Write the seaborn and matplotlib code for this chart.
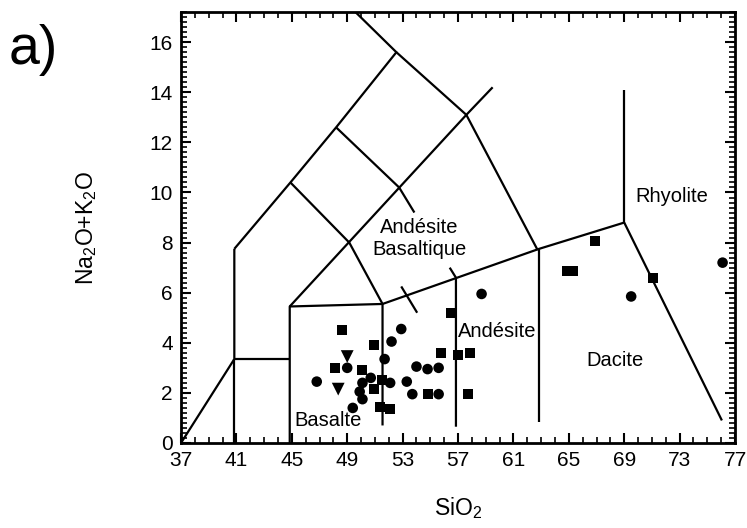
import pandas as pd
import seaborn as sns
import matplotlib.pyplot as plt
from matplotlib.ticker import MultipleLocator

# Sample analyses (SiO2, Na2O+K2O)
square_sio2 = [48.6, 50.9, 56.5, 55.8, 57.0, 57.9, 48.1, 50.1, 51.5, 50.9, 54.8, 57.7,
               51.4, 52.1, 66.9, 64.9, 65.3, 71.1]
square_alk = [4.5, 3.9, 5.2, 3.6, 3.5, 3.6, 3.0, 2.9, 2.5, 2.15, 1.95, 1.95,
              1.45, 1.35, 8.05, 6.85, 6.85, 6.6]
circle_sio2 = [52.9, 52.2, 51.7, 49.0, 54.0, 54.8, 55.6, 50.7, 46.8, 50.1, 52.1, 53.3,
               49.9, 53.7, 55.6, 50.1, 49.4, 58.7, 69.5, 76.1]
circle_alk = [4.55, 4.05, 3.35, 3.0, 3.05, 2.95, 3.0, 2.6, 2.45, 2.4, 2.4, 2.45,
              2.05, 1.95, 1.95, 1.75, 1.4, 5.95, 5.85, 7.2]
triangle_sio2 = [49.0, 48.35]
triangle_alk = [3.45, 2.15]

# TAS field boundaries as polylines (SiO2 list, Na2O+K2O list)
boundaries = [
    ([37.0, 40.85, 40.85], [0.0, 3.35, 7.75]),
    ([40.85, 40.85], [0.0, 3.35]),
    ([40.85, 44.85], [3.35, 3.35]),
    ([44.85, 44.85, 51.55, 51.55], [0.0, 5.45, 5.55, 0.7]),
    ([40.85, 44.9, 48.2, 52.55, 49.6], [7.75, 10.4, 12.6, 15.6, 17.2]),
    ([52.55, 57.6, 62.75], [15.6, 13.1, 7.7]),
    ([44.9, 49.15, 51.55], [10.4, 8.0, 5.55]),
    ([48.2, 52.75, 53.85], [12.6, 10.2, 9.2]),
    ([44.85, 57.6, 59.5], [5.45, 13.1, 14.2]),
    ([51.55, 62.85, 69.0], [5.55, 7.75, 8.8]),
    ([52.9, 54.05], [6.25, 5.2]),
    ([56.4, 56.85, 56.85], [7.0, 6.6, 0.65]),
    ([62.85, 62.85], [7.75, 0.85]),
    ([69.0, 76.05], [8.8, 0.9]),
    ([69.0, 69.0], [8.8, 14.1]),
]

field_names = ["Rhyolite", "Andésite\nBasaltique", "Andésite", "Dacite", "Basalte"]
field_x = [72.45, 54.2, 59.8, 68.3, 47.6]
field_y = [9.85, 8.15, 4.45, 3.3, 0.9]

points = pd.DataFrame({
    "SiO2": square_sio2 + circle_sio2 + triangle_sio2,
    "alk": square_alk + circle_alk + triangle_alk,
    "kind": ["square"] * len(square_sio2) + ["circle"] * len(circle_sio2)
            + ["triangle"] * len(triangle_sio2),
})

sns.set_style("ticks")
plt.rcParams['font.family'] = ['Liberation Sans', 'DejaVu Sans']
plt.rcParams['mathtext.default'] = 'regular'
plt.rcParams['text.color'] = 'black'
plt.rcParams['axes.labelcolor'] = 'black'

fig = plt.figure(figsize=(7.47, 5.28), dpi=100)
ax = fig.add_axes([0.2423, 0.161, 0.7417, 0.816])

for xs, ys in boundaries:
    ax.plot(xs, ys, color='black', lw=1.6, solid_capstyle='butt', zorder=2)

sns.scatterplot(data=points, x="SiO2", y="alk", style="kind", size="kind",
                markers={"square": "s", "circle": "o", "triangle": "v"},
                sizes={"square": 52, "circle": 58, "triangle": 85},
                color='black', edgecolor='black', linewidth=0,
                legend=False, ax=ax, zorder=3)

for name, tx, ty in zip(field_names, field_x, field_y):
    ax.text(tx, ty, name, ha='center', va='center', fontsize=14.5,
            linespacing=1.2, color='black')

ax.set_xlim(37, 77)
ax.set_ylim(0, 17.2)
ax.set_xticks(range(37, 78, 4))
ax.set_yticks(range(0, 17, 2))
ax.xaxis.set_minor_locator(MultipleLocator(1))
ax.yaxis.set_minor_locator(MultipleLocator(0.2))
ax.tick_params(which='major', direction='in', length=7, width=1.5,
               top=True, right=True, labelsize=15, pad=6,
               colors='black', labelcolor='black')
ax.tick_params(which='minor', direction='in', length=4, width=1.2,
               top=True, right=True, colors='black')
for sp in ax.spines.values():
    sp.set_linewidth(2)
    sp.set_color('black')

ax.set_xlabel(r'SiO$_2$', fontsize=16.5, labelpad=18, color='black')
ax.set_ylabel(r'Na$_2$O+K$_2$O', fontsize=16.5, labelpad=36, color='black')

fig.text(0.012, 0.955, "a)", fontsize=40, ha='left', va='top', color='black')

fig.savefig('out.png', dpi=100)
